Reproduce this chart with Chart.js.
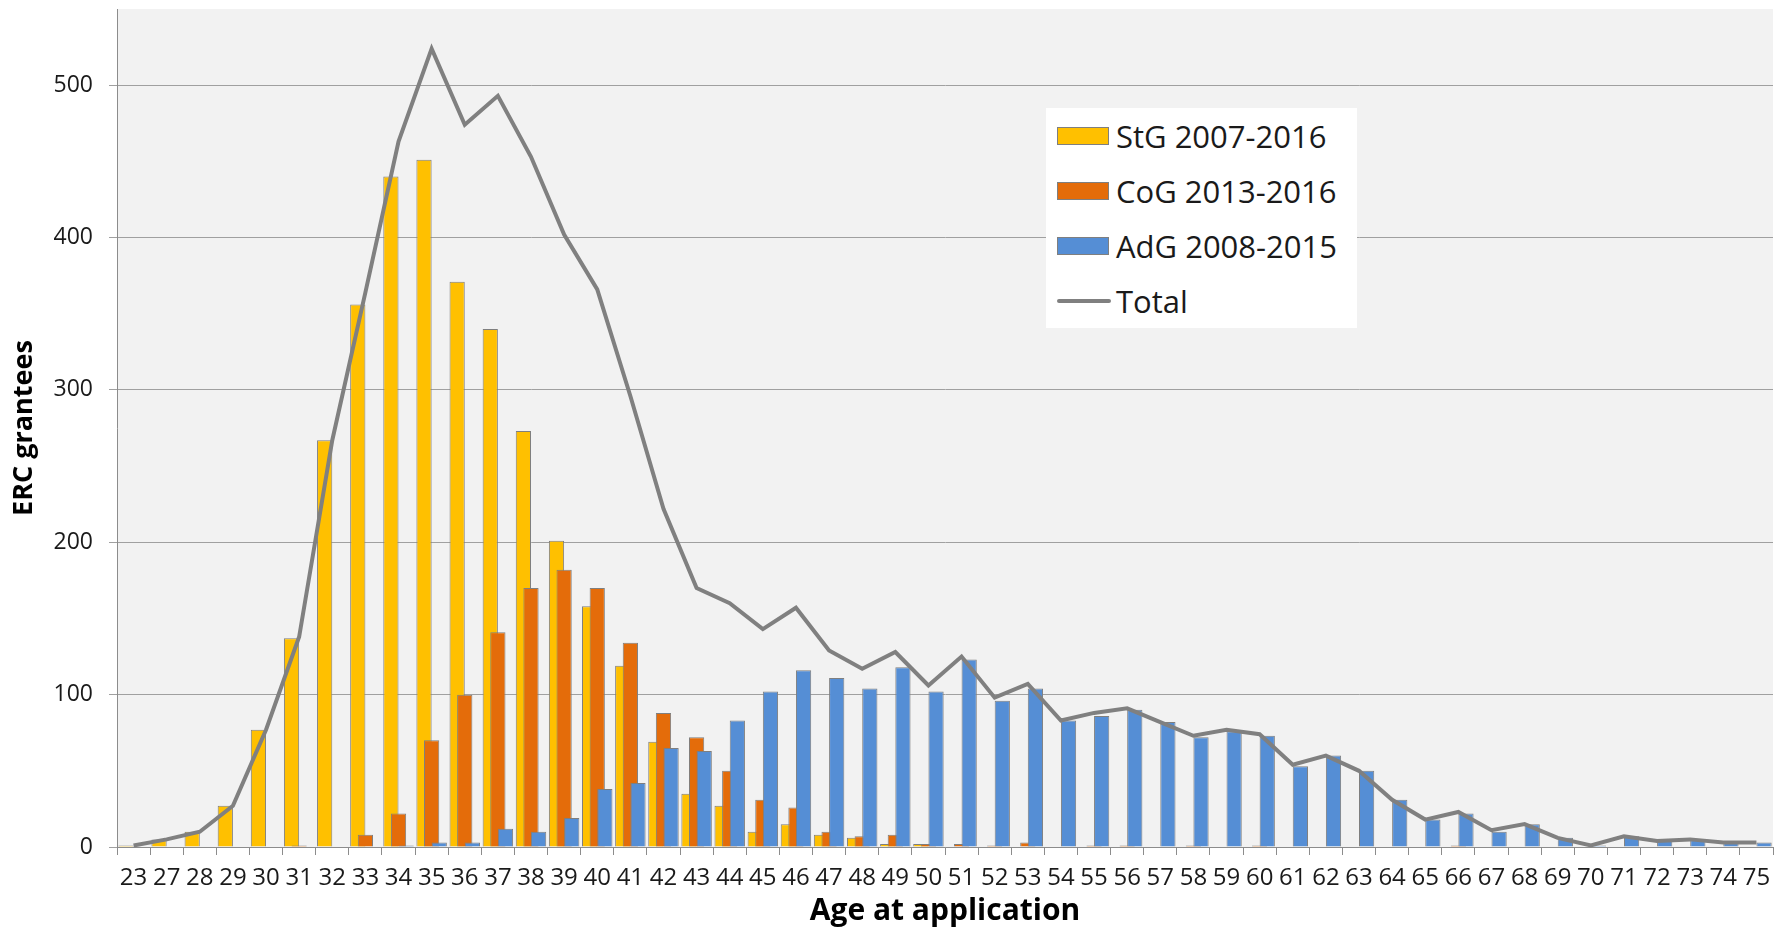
<!DOCTYPE html>
<html>
<head>
<meta charset="utf-8">
<title>ERC grantees by age at application</title>
<script src="https://cdn.jsdelivr.net/npm/chart.js@4.4.1/dist/chart.umd.min.js"></script>
<style>
  body { margin: 0; background: #fff; }
  #wrap { position: relative; width: 1785px; height: 928px; }
  #legend {
    position: absolute; left: 1046px; top: 108px; width: 311px; height: 220px;
    background: #fff; font-family: 'Open Sans', sans-serif; font-size: 31px; color: #1a1a1a;
  }
  #legend ul { margin: 0; padding: 0 0 0 11px; list-style: none; }
  #legend li { height: 55px; display: flex; align-items: center; white-space: nowrap; }
  #legend .box { display: inline-block; width: 52px; height: 18px; box-sizing: border-box; border: 1px solid #7f7f7f; margin-right: 7px; }
  #legend .line { display: inline-block; width: 54px; height: 4px; border-radius: 2px; margin-right: 5px; }
</style>
</head>
<body>
<div id="wrap">
  <canvas id="ageChart" width="1785" height="928"></canvas>
  <div id="legend"></div>
</div>
<script>
// age at application (x categories)
const ages = ['23', '27', '28', '29', '30', '31', '32', '33', '34', '35',
  '36', '37', '38', '39', '40', '41', '42', '43', '44', '45',
  '46', '47', '48', '49', '50', '51', '52', '53', '54', '55',
  '56', '57', '58', '59', '60', '61', '62', '63', '64', '65',
  '66', '67', '68', '69', '70', '71', '72', '73', '74', '75'];

// grantees per age
const stgGrantees = [1, 5, 10, 27, 77, 137, 267, 356, 440, 451,
  371, 340, 273, 201, 158, 119, 69, 35, 27, 10,
  15, 8, 6, 2, 2, 0, 0, 0, 0, 0,
  0, 0, 0, 0, 0, 0, 0, 0, 0, 0,
  0, 0, 0, 0, 0, 0, 0, 0, 0, 0];
const cogGrantees = [0, 0, 0, 0, 0, 1, 0, 8, 22, 70,
  100, 141, 170, 182, 170, 134, 88, 72, 50, 31,
  26, 10, 7, 8, 2, 2, 1, 3, 0, 1,
  1, 0, 1, 0, 1, 0, 0, 0, 0, 0,
  1, 0, 0, 0, 0, 0, 0, 0, 0, 0];
const adgGrantees = [0, 0, 0, 0, 0, 0, 0, 0, 1, 3,
  3, 12, 10, 19, 38, 42, 65, 63, 83, 102,
  116, 111, 104, 118, 102, 123, 96, 104, 83, 86,
  90, 82, 72, 76, 73, 53, 60, 50, 31, 18,
  22, 10, 15, 6, 1, 7, 5, 5, 3, 3];
const totalGrantees = [1, 5, 10, 27, 77, 138, 267, 364, 463, 524,
  474, 493, 453, 402, 366, 296, 222, 170, 160, 143,
  157, 129, 117, 128, 106, 125, 98, 107, 83, 88,
  91, 82, 73, 77, 74, 54, 60, 50, 31, 18,
  23, 11, 15, 6, 1, 7, 4, 5, 3, 3];

const seriesNames = ['StG 2007-2016', 'CoG 2013-2016', 'AdG 2008-2015', 'Total'];
const seriesColors = ['#ffc000', '#e46c0a', '#558ed5', '#808080'];
const yTickValues = [0, 100, 200, 300, 400, 500];

Chart.defaults.font.family = "'Open Sans', sans-serif";
Chart.defaults.color = '#1a1a1a';

// light grey plot area like the excel original
const plotBackground = {
  id: 'plotBackground',
  beforeDraw(chart) {
    const { ctx, chartArea: a } = chart;
    ctx.save();
    ctx.fillStyle = '#f2f2f2';
    ctx.fillRect(a.left, a.top, a.right - a.left, a.bottom - a.top);
    ctx.restore();
  }
};

// bars overlap, so paint StG first and AdG on top, then the line
const drawInOrder = {
  id: 'drawInOrder',
  beforeDatasetsDraw(chart) {
    chart.data.datasets.forEach((ds, i) => chart.getDatasetMeta(i).controller.draw());
    return false;
  }
};

const htmlLegend = {
  id: 'htmlLegend',
  afterUpdate(chart) {
    const box = document.getElementById('legend');
    const ul = document.createElement('ul');
    chart.data.datasets.forEach((ds) => {
      const li = document.createElement('li');
      const mark = document.createElement('span');
      if (ds.type === 'line') {
        mark.className = 'line';
        mark.style.background = ds.borderColor;
      } else {
        mark.className = 'box';
        mark.style.background = ds.backgroundColor;
      }
      li.appendChild(mark);
      li.appendChild(document.createTextNode(ds.label));
      ul.appendChild(li);
    });
    box.innerHTML = '';
    box.appendChild(ul);
  }
};

const barStyle = {
  borderColor: '#7f7f7f',
  borderWidth: 1,
  categoryPercentage: 0.69,
  barPercentage: 2
};

new Chart(document.getElementById('ageChart'), {
  type: 'bar',
  data: {
    labels: ages,
    datasets: [
      { label: seriesNames[0], data: stgGrantees, backgroundColor: seriesColors[0], ...barStyle },
      { label: seriesNames[1], data: cogGrantees, backgroundColor: seriesColors[1], ...barStyle },
      { label: seriesNames[2], data: adgGrantees, backgroundColor: seriesColors[2], ...barStyle },
      {
        type: 'line', label: seriesNames[3], data: totalGrantees,
        borderColor: seriesColors[3], borderWidth: 4, pointRadius: 0, tension: 0, fill: false
      }
    ]
  },
  options: {
    responsive: false,
    animation: false,
    events: [],
    layout: { padding: { top: 9, right: 12, left: 0, bottom: 0 } },
    plugins: {
      legend: { display: false },
      tooltip: { enabled: false }
    },
    scales: {
      x: {
        grid: { drawOnChartArea: false, drawTicks: true, tickLength: 8, color: '#8c8c8c', offset: true },
        border: { color: '#8c8c8c' },
        ticks: { autoSkip: false, maxRotation: 0, padding: 9, font: { size: 24 } },
        title: {
          display: true, text: 'Age at application', color: '#000',
          font: { size: 30, weight: 'bold', lineHeight: 1.1 }, padding: { top: 0, bottom: 0 }
        },
        afterFit: (s) => { s.height = 81; }
      },
      y: {
        min: 0,
        max: 550,
        afterBuildTicks: (axis) => { axis.ticks = yTickValues.map(v => ({ value: v })); },
        grid: { color: '#a0a0a0', tickLength: 8 },
        border: { color: '#8c8c8c' },
        ticks: { padding: 16, font: { size: 23 } },
        title: {
          display: true, text: 'ERC grantees', color: '#000',
          font: { size: 27, weight: 'bold' }, padding: { top: 8, bottom: 0 }
        },
        afterFit: (s) => { s.width = 117; s.paddingTop = 0; s.paddingBottom = 0; }
      }
    }
  },
  plugins: [plotBackground, drawInOrder, htmlLegend]
});
</script>
</body>
</html>
